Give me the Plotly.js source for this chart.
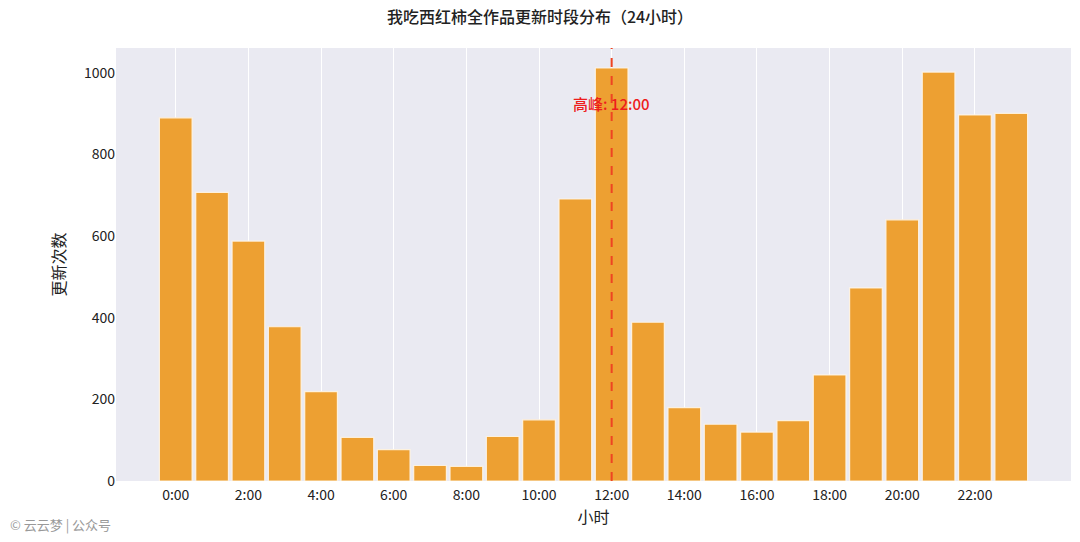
<!DOCTYPE html>
<html>
<head>
<meta charset="utf-8">
<script src="https://cdn.plot.ly/plotly-3.0.1.min.js"></script>
<style>
html,body{margin:0;padding:0;background:#fff;}
#chart{width:1080px;height:542px;}
</style>
</head>
<body>
<div id="chart"></div>
<script>
const hours = [0,1,2,3,4,5,6,7,8,9,10,11,12,13,14,15,16,17,18,19,20,21,22,23];
const counts = [890,707,588,378,219,107,77,38,36,109,150,691,1012,389,180,139,120,148,260,473,640,1002,897,901];
const tickVals = [0,2,4,6,8,10,12,14,16,18,20,22];
const tickLabels = ["0:00","2:00","4:00","6:00","8:00","10:00","12:00","14:00","16:00","18:00","20:00","22:00"];
const yTicks = [0,200,400,600,800,1000];
const peakHour = 12;
const peakLabel = "高峰: 12:00";

const font = "'Noto Sans CJK SC', 'Noto Sans', sans-serif";

const trace = {
  type: 'bar',
  x: hours,
  y: counts,
  width: 0.9,
  marker: {color: '#eda032', line: {color: 'rgba(255,245,230,0.9)', width: 1.2}},
  hoverinfo: 'x+y'
};

const layout = {
  width: 1080, height: 542,
  margin: {l: 116, r: 9, t: 48, b: 61},
  paper_bgcolor: '#ffffff',
  plot_bgcolor: '#eaeaf2',
  font: {family: font, color: '#333', size: 13},
  title: {text: '我吃西红柿全作品更新时段分布（24小时）', x: 0.5, xanchor: 'center', y: 0.968, yanchor: 'middle', font: {size: 16, color: '#222', family: font, weight: 500}},
  xaxis: {
    range: [-1.645, 24.645],
    tickvals: tickVals, ticktext: tickLabels,
    showgrid: true, gridcolor: '#ffffff', gridwidth: 1,
    zeroline: false, showline: false, ticks: '',
    ticklabelstandoff: 4,
    tickfont: {size: 14, color: '#222'},
    title: {text: '小时', font: {size: 16, color: '#222'}, standoff: 8}
  },
  yaxis: {
    range: [0, 1061],
    tickvals: yTicks,
    showgrid: false, zeroline: false, showline: false, ticks: '',
    tickfont: {size: 14, color: '#222'},
    title: {text: '更新次数', font: {size: 16, color: '#222'}, standoff: 14}
  },
  shapes: [{
    type: 'line', xref: 'x', yref: 'paper', x0: peakHour, x1: peakHour, y0: 0, y1: 1,
    line: {color: '#ee4422', width: 2, dash: 'dash'}
  }],
  annotations: [
    {x: peakHour, y: 925, xref: 'x', yref: 'y', text: peakLabel, showarrow: false,
     font: {size: 15, color: '#ee1c1c', family: font, weight: 500}, xanchor: 'center', yanchor: 'middle'},
    {x: 0, y: 0, xref: 'paper', yref: 'paper', text: '© 云云梦 | 公众号', showarrow: false,
     font: {size: 13, color: '#999'}, xanchor: 'left', yanchor: 'middle'}
  ],
  showlegend: false,
  bargap: 0
};

const pw = 1080 - 116 - 9, ph = 542 - 48 - 61;
layout.annotations[1].x = (8 - 116) / pw;
layout.annotations[1].y = (542 - 61 - 524) / ph;

Plotly.newPlot('chart', [trace], layout, {displayModeBar: false, staticPlot: true});
</script>
</body>
</html>
